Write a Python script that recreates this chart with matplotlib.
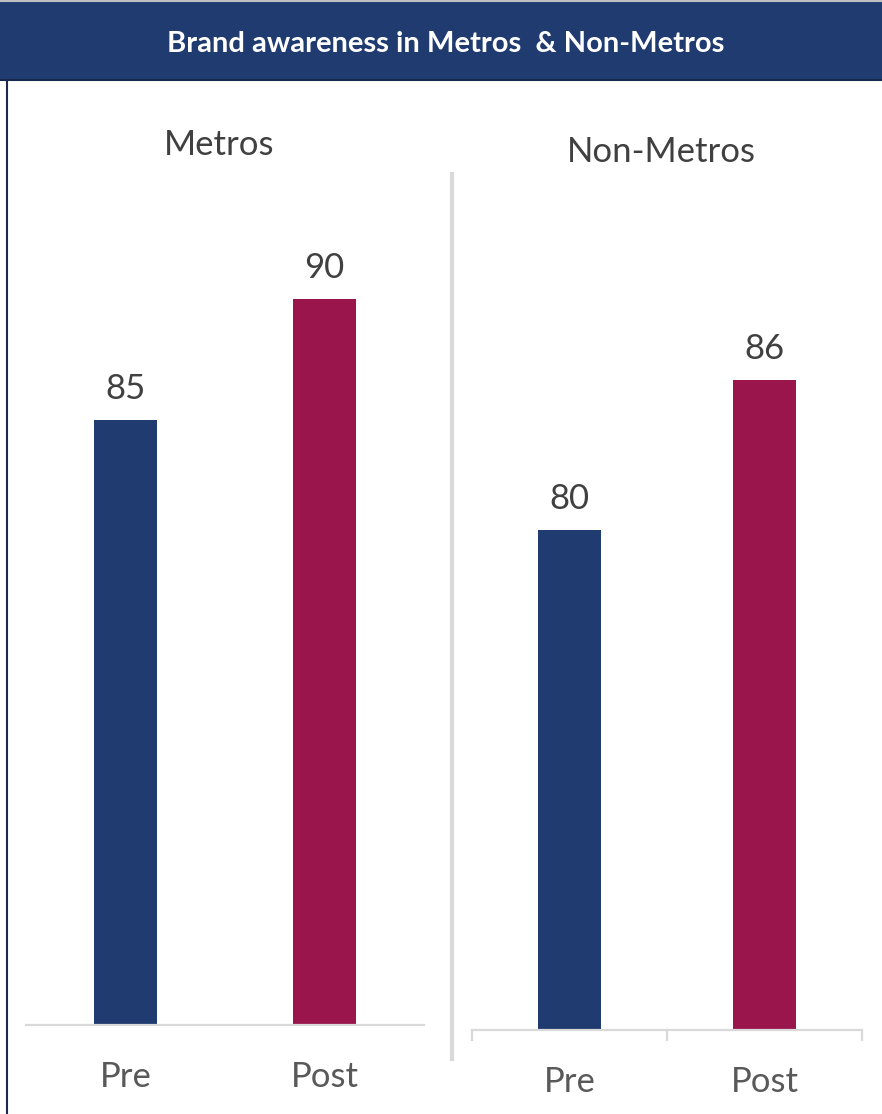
import matplotlib.pyplot as plt
from matplotlib.patches import Rectangle
from matplotlib.lines import Line2D

categories = ["Pre", "Post"]
metros = [85, 90]
non_metros = [80, 86]
panel_titles = ["Metros", "Non-Metros"]
title = "Brand awareness in Metros  & Non-Metros"

navy = "#1F3B70"
crimson = "#99154B"
grid_grey = "#D9D9D9"

plt.rcParams["font.family"] = ["Lato", "DejaVu Sans"]

W, H = 882, 1114
fig = plt.figure(figsize=(W / 100, H / 100), dpi=100)


def fx(px):
    return px / W


def fy(py):
    return 1 - py / H


def panel(left, right, base, top, values, ticks_out):
    ax = fig.add_axes([fx(left), fy(base), fx(right - left), (base - top) / H])
    ax.set_facecolor("none")
    ax.bar(range(len(values)), values, width=0.32, color=[navy, crimson], bottom=0)
    ax.set_ylim(60, 100)
    ax.set_xlim(-0.5, len(values) - 0.5)
    for i, v in enumerate(values):
        ax.annotate(str(v), (i, v), xytext=(0, 15), textcoords="offset points",
                    ha="center", va="baseline", fontsize=25, color="#404040")
    for s in ["top", "right", "left"]:
        ax.spines[s].set_visible(False)
    ax.spines["bottom"].set_color(grid_grey)
    ax.spines["bottom"].set_linewidth(1.6)
    ax.set_yticks([])
    ax.set_xticks(range(len(values)))
    ax.set_xticklabels(categories, fontsize=25, color="#595959")
    ax.tick_params(axis="x", length=0, pad=26)
    if ticks_out:
        ax.set_xticks([-0.5, 0.5, 1.5], minor=True)
        ax.tick_params(axis="x", which="minor", length=8, width=1.6,
                       color=grid_grey, direction="out")
    return ax


ax1 = panel(26, 424, 1025, 57, metros, False)
ax2 = panel(472, 862, 1030, 30, non_metros, True)

# header band
fig.add_artist(Rectangle((0, fy(81)), 1, (81 - 2) / H, transform=fig.transFigure,
                         facecolor="#1F3B70", edgecolor="none", zorder=5))
fig.add_artist(Line2D([0, 1], [fy(80), fy(80)], transform=fig.transFigure,
                      color="#17284D", lw=1.5, zorder=6))
fig.add_artist(Line2D([0, 1], [fy(1), fy(1)], transform=fig.transFigure,
                      color="#BFBFBF", lw=1.5, zorder=6))
fig.text(fx(446), fy(44), title, ha="center", va="center", color="white",
         fontsize=21, fontweight="bold", zorder=7)

# left border
fig.add_artist(Line2D([fx(7), fx(7)], [0, fy(80)], transform=fig.transFigure,
                      color="#1F2A4A", lw=1.5, zorder=6))

# divider
fig.add_artist(Line2D([fx(452), fx(452)], [fy(174), fy(1059)], transform=fig.transFigure,
                      color=grid_grey, lw=3, zorder=3))

# panel titles
fig.text(fx(219), fy(155), panel_titles[0], ha="center", va="baseline",
         fontsize=25, color="#404040")
fig.text(fx(661), fy(162), panel_titles[1], ha="center", va="baseline",
         fontsize=25, color="#404040")

fig.savefig("out.png", dpi=100, facecolor="white")
